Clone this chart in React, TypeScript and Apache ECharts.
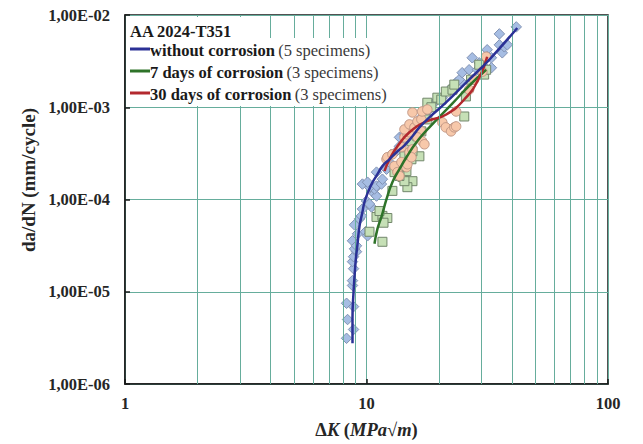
import React, { useEffect, useRef } from "react";
import * as echarts from "echarts";

// ---- data ----
const xTickLabels = ["1", "10", "100"];
const yTicks = [1e-6, 1e-5, 1e-4, 1e-3, 1e-2];
const yTickLabels = ["1,00E-06", "1,00E-05", "1,00E-04", "1,00E-03", "1,00E-02"];
const xMinorGrid = [2, 3, 4, 5, 6, 7, 8, 9, 20, 30, 40, 50, 60, 70, 80, 90];

const legendTitle = "AA 2024-T351";
const seriesNames = ["without corrosion", "7 days of corrosion", "30 days of corrosion"];
const seriesNotes = ["(5 specimens)", "(3 specimens)", "(3 specimens)"];

const noCorrosionPoints: number[][] = [
  [8.27, 3.13e-6], [8.84, 3.9e-6], [8.35, 5.0e-6], [8.84, 6.9e-6], [8.27, 7.5e-6],
  [8.75, 1.17e-5], [8.75, 1.32e-5], [8.84, 1.78e-5], [8.75, 2.12e-5], [8.84, 2.4e-5],
  [9.09, 2.72e-5], [8.92, 2.92e-5], [8.75, 3.57e-5], [9.09, 3.15e-5], [9.18, 4.25e-5],
  [8.92, 5.31e-5], [9.36, 6.17e-5], [9.53, 6.64e-5], [9.62, 7.9e-5], [9.9, 4.47e-5],
  [10.1, 4.04e-5], [10.0, 9.63e-5], [10.49, 8.3e-5], [10.29, 8.94e-5], [10.79, 1.15e-4],
  [11.0, 1.09e-4], [10.79, 1.3e-4], [10.29, 1.36e-4], [9.62, 1.47e-4], [10.1, 1.54e-4],
  [11.0, 1.4e-4], [11.53, 1.47e-4], [11.64, 1.66e-4], [11.0, 1.98e-4], [12.1, 2.13e-4],
  [12.45, 2.54e-4], [12.68, 3.09e-4], [13.3, 3.33e-4], [13.69, 3.77e-4], [14.36, 4.49e-4],
  [13.69, 4.72e-4], [15.35, 5.08e-4], [14.36, 5.08e-4], [15.06, 6.2e-4], [16.87, 7.76e-4],
  [17.37, 8.35e-4], [18.21, 9.46e-4], [19.1, 1.12e-3], [20.6, 1.27e-3], [22.4, 1.55e-3],
  [22.7, 1.67e-3], [23.5, 1.85e-3], [24.7, 1.9e-3], [24.2, 1.99e-3], [24.9, 2.37e-3],
  [26.6, 2.55e-3], [28.8, 2.55e-3], [27.4, 3.44e-3], [29.3, 3.03e-3], [30.2, 2.89e-3],
  [31.6, 4.2e-3], [31.6, 3.53e-3], [32.9, 2.68e-3], [32.9, 3.44e-3], [35.5, 4.75e-3],
  [36.5, 3.89e-3], [37.2, 4.52e-3], [38.3, 4.75e-3], [35.5, 6.24e-3], [41.7, 7.43e-3],
];

const days7Points: number[][] = [
  [11.64, 3.48e-5], [10.29, 4.47e-5], [11.0, 6.47e-5], [11.64, 6.64e-5], [12.2, 6.3e-5],
  [11.76, 5.6e-5], [11.32, 7.5e-5], [12.8, 1.24e-4], [14.09, 1.75e-4], [15.5, 1.58e-4],
  [14.77, 1.36e-4], [14.36, 1.58e-4], [14.63, 2.03e-4], [13.95, 2.3e-4], [15.35, 2.73e-4],
  [14.36, 2.94e-4], [16.56, 2.94e-4], [15.5, 3.33e-4], [15.35, 4.27e-4], [16.25, 4.84e-4],
  [16.87, 5.48e-4], [17.86, 7.38e-4], [17.86, 1.12e-3], [19.65, 1.27e-3], [20.4, 1.21e-3],
  [21.3, 1.48e-3], [22.7, 1.55e-3], [25.8, 1.31e-3], [25.4, 7.94e-4], [27.1, 1.99e-3],
  [30.7, 2.26e-3], [31.3, 2.55e-3], [29.3, 2.89e-3], [13.06, 1.98e-4], [13.69, 1.8e-4],
  [15.06, 3.09e-4], [18.56, 1.0e-3], [23.1, 1.76e-3],
];

const days30Points: number[][] = [
  [12.1, 2.73e-4], [12.2, 2.87e-4], [12.8, 3.09e-4], [13.06, 2.3e-4], [13.43, 1.98e-4],
  [13.69, 1.8e-4], [13.95, 2.54e-4], [14.63, 2.24e-4], [14.77, 2.41e-4], [15.06, 3.25e-4],
  [15.5, 3.5e-4], [15.35, 2.87e-4], [13.95, 3.7e-4], [14.36, 4.72e-4], [14.77, 5.08e-4],
  [15.06, 5.35e-4], [14.36, 5.75e-4], [15.06, 6.52e-4], [15.79, 6.05e-4], [16.25, 7.02e-4],
  [16.87, 5.48e-4], [16.25, 4.72e-4], [17.0, 4.27e-4], [17.37, 3.97e-4], [15.5, 8.78e-4],
  [16.87, 7.38e-4], [17.0, 9.0e-4], [17.86, 9.46e-4], [20.6, 6.86e-4], [21.3, 6.05e-4],
  [22.4, 5.48e-4], [23.1, 6.05e-4], [23.5, 6.2e-4], [23.5, 9.0e-4], [30.2, 2.43e-3],
  [31.3, 3.53e-3], [26.6, 1.55e-3], [27.9, 1.99e-3],
];

const noCorrosionFit: number[][] = [
  [8.75, 2.77e-6], [8.75, 5.15e-6], [8.84, 1.0e-5], [9.0, 2.02e-5], [9.18, 3.31e-5],
  [9.36, 5.18e-5], [9.62, 7.3e-5], [9.81, 9.4e-5], [10.2, 1.24e-4], [10.6, 1.54e-4],
  [11.1, 1.88e-4], [11.64, 2.3e-4], [12.45, 2.73e-4], [13.3, 3.25e-4], [14.36, 3.87e-4],
  [15.5, 4.84e-4], [16.56, 6.05e-4], [18.21, 7.76e-4], [21.3, 1.12e-3], [26.6, 1.99e-3],
  [32.2, 3.27e-3], [42.1, 7.24e-3],
];

const days7Fit: number[][] = [
  [10.79, 3.31e-5], [11.1, 4.81e-5], [11.53, 6.47e-5], [12.1, 1.01e-4], [12.8, 1.54e-4],
  [13.69, 2.13e-4], [14.63, 2.87e-4], [16.1, 4.17e-4], [18.21, 6.05e-4], [22.7, 1.1e-3],
  [26.6, 1.71e-3], [31.3, 2.55e-3],
];

const days30Fit: number[][] = [
  [11.87, 2.03e-4], [12.45, 2.73e-4], [13.43, 3.77e-4], [15.06, 5.35e-4], [17.7, 7.02e-4],
  [21.3, 8.3e-4], [25.8, 1.27e-3], [29.3, 2.09e-3], [31.6, 3.53e-3],
];

// ---- styles ----
const FONT = "Liberation Serif";
const GRID_COLOR = "#66ad9c";
const lineColors = ["#2b3196", "#2e7329", "#b3292e"];

export default function App() {
  const ref = useRef<HTMLDivElement>(null);

  useEffect(() => {
    if (!ref.current) return;
    const chart = echarts.init(ref.current, null, { renderer: "svg" });

    const rowY = [49, 71, 93];
    const legendGraphics: any[] = [
      { type: "rect", z: 20, shape: { x: 127, y: 17, width: 132, height: 22 }, style: { fill: "#fff" } },
      { type: "rect", z: 20, shape: { x: 127, y: 38, width: 275, height: 68 }, style: { fill: "#fff" } },
      {
        type: "text", z: 21, x: 130, y: 31,
        style: { text: legendTitle, font: `bold 16.5px "${FONT}"`, fill: "#1a1a1a", verticalAlign: "middle", align: "left" },
      },
    ];
    seriesNames.forEach((n, i) => {
      legendGraphics.push({
        type: "line", z: 21,
        shape: { x1: 130, y1: rowY[i], x2: 150, y2: rowY[i] },
        style: { stroke: lineColors[i], lineWidth: 3 },
      });
      legendGraphics.push({
        type: "text", z: 21, x: 150, y: rowY[i] + 1,
        style: {
          text: `{b|${n}} {n|${seriesNotes[i]}}`,
          verticalAlign: "middle", align: "left",
          rich: {
            b: { font: `bold 16.5px "${FONT}"`, fill: "#1a1a1a" },
            n: { font: `16.5px "${FONT}"`, fill: "#3a3a3a" },
          },
        },
      });
    });
    legendGraphics.push({
      type: "text", z: 21, x: 28, y: 180, rotation: Math.PI / 2,
      style: { text: "da/dN (mm/cycle)", font: `bold 19px "${FONT}"`, fill: "#262626", align: "center", verticalAlign: "middle" },
    });

    chart.setOption({
      animation: false,
      backgroundColor: "#fff",
      grid: { left: 125, top: 15, right: 35, bottom: 58, show: true, borderColor: "#1a1a1a", borderWidth: 1.5, backgroundColor: "transparent" },
      xAxis: {
        type: "log", logBase: 10, min: 1, max: 100,
        axisLine: { lineStyle: { color: "#1a1a1a", width: 1.5 } },
        axisTick: { inside: true, length: 5, lineStyle: { color: "#1a1a1a", width: 1.5 } },
        splitLine: { show: true, lineStyle: { color: GRID_COLOR, width: 1 } },
        axisLabel: {
          margin: 11, fontFamily: FONT, fontWeight: "bold", fontSize: 16.5, color: "#262626",
          formatter: (v: number) => xTickLabels[Math.round(Math.log10(v))] ?? "",
        },
        name: "{b|Δ}{i|K}{b| (}{i|MPa}{b|√}{i|m}{b|)}",
        nameLocation: "middle",
        nameGap: 36,
        nameTextStyle: {
          rich: {
            b: { fontFamily: FONT, fontWeight: "bold", fontSize: 18.5, color: "#262626" },
            i: { fontFamily: FONT, fontWeight: "bold", fontStyle: "italic", fontSize: 18.5, color: "#262626" },
          },
        },
      },
      yAxis: {
        type: "log", logBase: 10, min: 1e-6, max: 1e-2,
        axisLine: { lineStyle: { color: "#1a1a1a", width: 1.5 } },
        axisTick: { inside: true, length: 5, lineStyle: { color: "#1a1a1a", width: 1.5 } },
        splitLine: { show: true, lineStyle: { color: GRID_COLOR, width: 1 } },
        axisLabel: {
          margin: 15, fontFamily: FONT, fontWeight: "bold", fontSize: 16.5, color: "#262626",
          formatter: (v: number) => {
            const idx = yTicks.findIndex((t) => Math.abs(Math.log10(t) - Math.log10(v)) < 1e-6);
            return idx >= 0 ? yTickLabels[idx] : "";
          },
        },
      },
      graphic: legendGraphics,
      series: [
        {
          type: "line", data: [], silent: true, z: 1,
          markLine: {
            silent: true, symbol: "none", label: { show: false },
            lineStyle: { color: GRID_COLOR, width: 1, type: "solid" },
            data: xMinorGrid.map((x) => ({ xAxis: x })),
          },
        },
        {
          name: seriesNames[0] + " data", type: "scatter", data: noCorrosionPoints, symbol: "diamond", symbolSize: 10.5, z: 3,
          itemStyle: { color: "#a6bde3", borderColor: "#8192b3", borderWidth: 1, opacity: 1 },
        },
        {
          name: seriesNames[1] + " data", type: "scatter", data: days7Points, symbol: "rect", symbolSize: 9, z: 3,
          itemStyle: { color: "#c6e0b6", borderColor: "#72876b", borderWidth: 1, opacity: 1 },
        },
        {
          name: seriesNames[2] + " data", type: "scatter", data: days30Points, symbol: "circle", symbolSize: 9.5, z: 3,
          itemStyle: { color: "#f7c8aa", borderColor: "#c29886", borderWidth: 1, opacity: 1 },
        },
        {
          name: seriesNames[1], type: "line", data: days7Fit, smooth: true, showSymbol: false, z: 4,
          lineStyle: { color: lineColors[1], width: 2.5 },
        },
        {
          name: seriesNames[2], type: "line", data: days30Fit, smooth: true, showSymbol: false, z: 4,
          lineStyle: { color: lineColors[2], width: 2.5 },
        },
        {
          name: seriesNames[0], type: "line", data: noCorrosionFit, smooth: true, showSymbol: false, z: 5,
          lineStyle: { color: lineColors[0], width: 2.5 },
        },
      ],
    });

    return () => chart.dispose();
  }, []);

  return <div ref={ref} style={{ width: 643, height: 444, position: "absolute", left: 0, top: 0 }} />;
}
